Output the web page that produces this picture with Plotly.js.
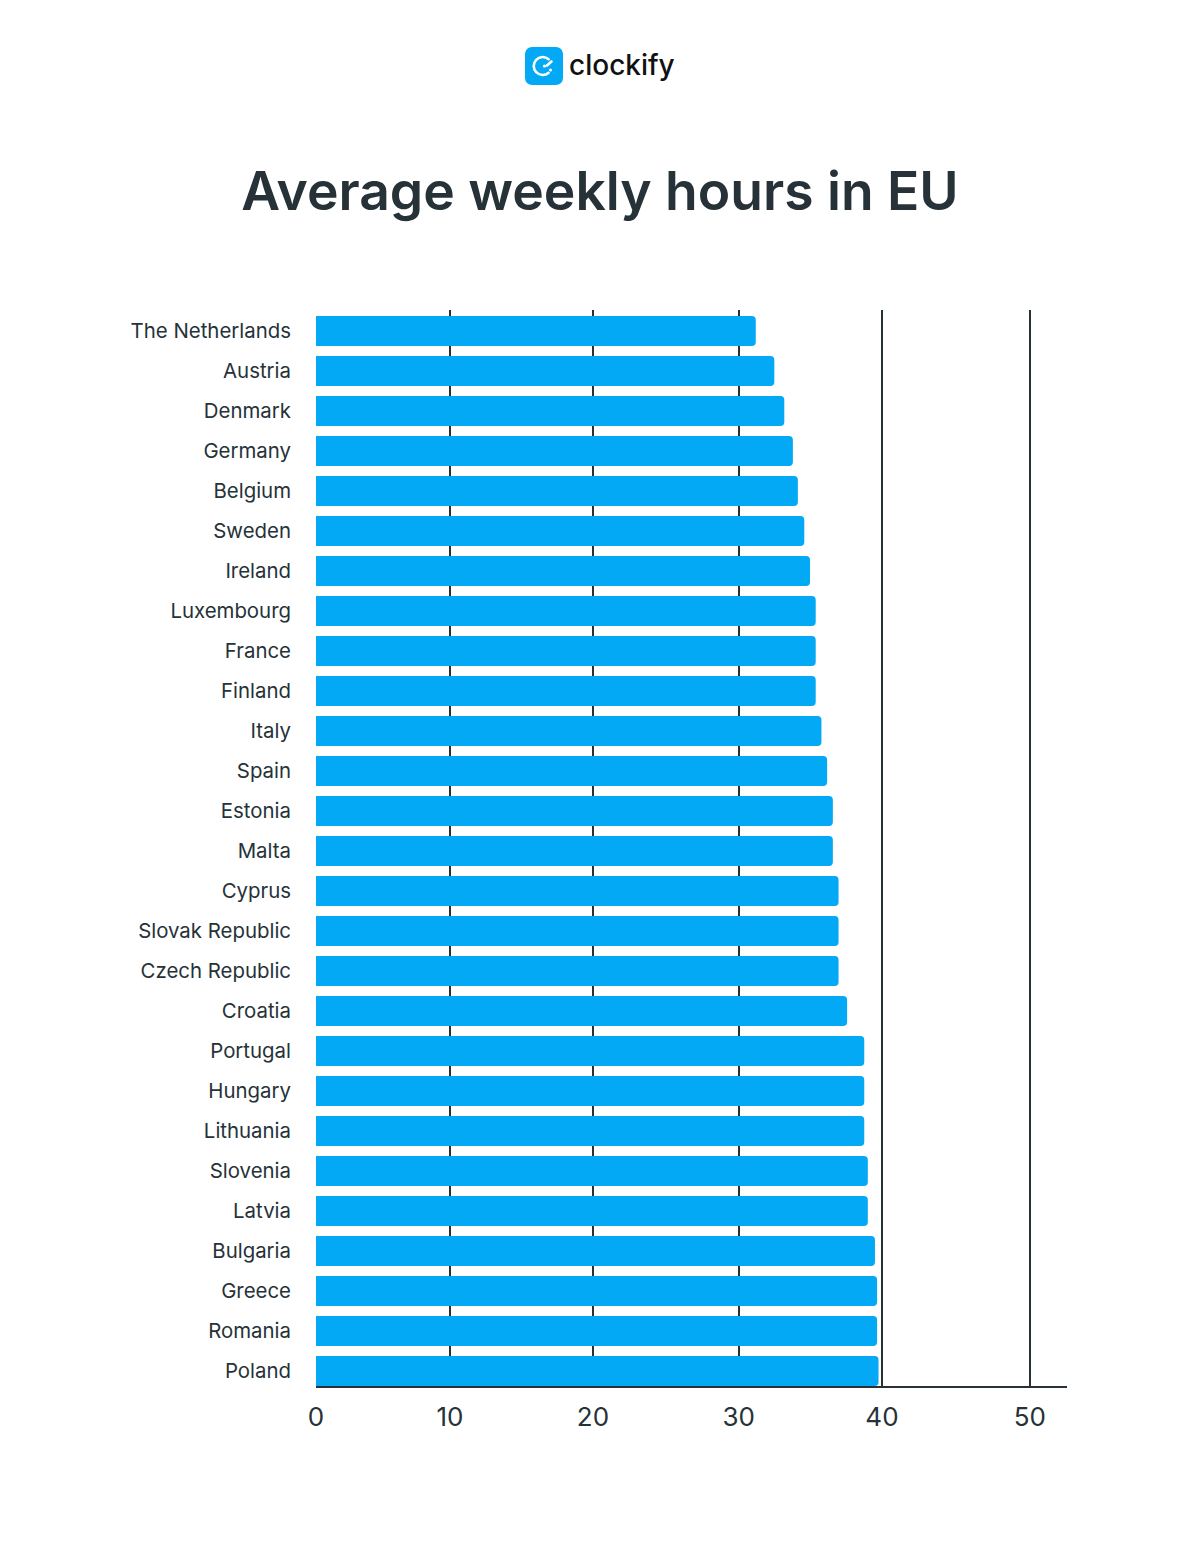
<!DOCTYPE html>
<html><head><meta charset="utf-8">
<script src="https://cdn.plot.ly/plotly-3.0.1.min.js"></script>
<style>html,body{margin:0;padding:0;background:#fff}</style></head>
<body><div id="chart" style="width:1200px;height:1544px"></div>
<script>
const countries = ["The Netherlands","Austria","Denmark","Germany","Belgium","Sweden","Ireland","Luxembourg","France","Finland","Italy","Spain","Estonia","Malta","Cyprus","Slovak Republic","Czech Republic","Croatia","Portugal","Hungary","Lithuania","Slovenia","Latvia","Bulgaria","Greece","Romania","Poland"];
const hours = [30.8,32.1,32.8,33.4,33.75,34.2,34.6,35.0,35.0,35.0,35.4,35.8,36.2,36.2,36.6,36.6,36.6,37.2,38.4,38.4,38.4,38.65,38.65,39.15,39.3,39.3,39.4];
const tickPositions = [0,9.38,19.4,29.6,39.64,50];
const tickLabels = ["0","10","20","30","40","50"];
const ink = "#263238";
const icon = 'data:image/svg+xml;utf8,' + encodeURIComponent('<svg xmlns="http://www.w3.org/2000/svg" viewBox="0 0 38 38"><rect width="38" height="38" rx="7" fill="#03A9F4"/><path d="M23.6 12.2A9 9 0 1 0 23.6 25.8" fill="none" stroke="#fff" stroke-width="2.6" stroke-linecap="round"/><path d="M26.5 14.5L22 18.5" fill="none" stroke="#fff" stroke-width="2.6" stroke-linecap="round"/><circle cx="25.5" cy="23" r="1.5" fill="#fff"/><circle cx="19.5" cy="19" r="1.6" fill="#fff"/></svg>');
Plotly.newPlot("chart",[{
  type:"bar",orientation:"h",y:countries,x:hours,
  marker:{color:"#03A9F4",cornerradius:4,line:{width:0}},
  hoverinfo:"y+x"
}],{
  width:1200,height:1544,paper_bgcolor:"#fff",plot_bgcolor:"#fff",
  margin:{l:316,r:133,t:310,b:158,pad:0},
  bargap:0.25,showlegend:false,
  font:{family:"Inter, sans-serif",color:ink},
  title:{text:"Average weekly hours in EU",font:{family:"Inter, sans-serif",size:53.4,weight:600,color:ink},x:0.5,xanchor:"center",y:1-191/1544,yanchor:"middle"},
  xaxis:{range:[0,52.6],tickmode:"array",tickvals:tickPositions,ticktext:tickLabels,showgrid:true,gridcolor:ink,gridwidth:2,
    zeroline:true,zerolinecolor:"rgba(0,0,0,0)",zerolinewidth:1,showline:true,linecolor:ink,linewidth:2,ticks:"",
    tickfont:{size:26,color:ink,family:"Inter, sans-serif"},ticklabelstandoff:7},
  yaxis:{type:"category",range:[26.375,-0.525],showgrid:false,zeroline:false,showline:false,ticks:"",
    tickfont:{size:20.4,color:ink,family:"Inter, sans-serif"},ticklabelstandoff:24,automargin:false,tickmode:"linear",dtick:1},
  images:[{source:icon,xref:"paper",yref:"paper",x:(525-316)/751,y:(1544-158-47)/1076,sizex:38/751,sizey:38/1076,xanchor:"left",yanchor:"top",sizing:"stretch",layer:"above"}],
  annotations:[{text:"clockify",xref:"paper",yref:"paper",x:(567-316)/751,y:(1544-158-65)/1076,xanchor:"left",yanchor:"middle",showarrow:false,font:{family:"Inter, sans-serif",size:28,weight:500,color:"#111"}}]
},{staticPlot:false,displayModeBar:false});
</script></body></html>
